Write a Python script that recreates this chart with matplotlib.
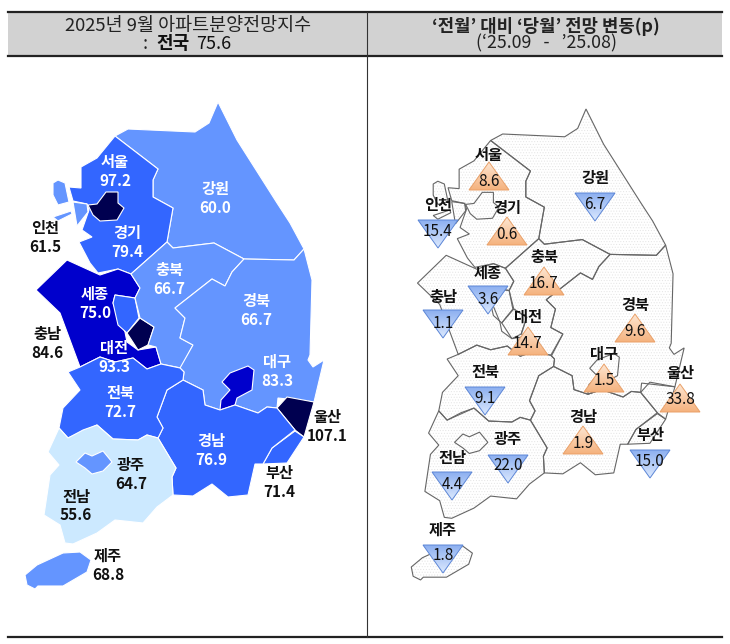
import numpy as np
import matplotlib
matplotlib.use("Agg")
import matplotlib.pyplot as plt
from matplotlib.colors import LinearSegmentedColormap
from matplotlib.patches import Polygon

plt.rcParams["font.family"] = ["Noto Sans CJK KR", "DejaVu Sans"]
plt.rcParams["hatch.linewidth"] = 0.4

# index values and month on month changes
regions = ["서울", "강원", "인천", "경기", "충북", "세종", "경북", "충남", "대전",
           "대구", "전북", "울산", "경남", "광주", "부산", "전남", "제주"]
index_values = ["97.2", "60.0", "61.5", "79.4", "66.7", "75.0", "66.7", "84.6", "93.3",
                "83.3", "72.7", "107.1", "76.9", "64.7", "71.4", "55.6", "68.8"]
change_values = ["8.6", "6.7", "15.4", "0.6", "16.7", "3.6", "9.6", "1.1", "14.7",
                 "1.5", "9.1", "33.8", "1.9", "22.0", "15.0", "4.4", "1.8"]
change_up = [True, False, False, True, True, False, True, False, True,
             True, False, True, True, False, False, False, False]

# left map label centres
left_labels = [(115, 162), (215, 189), (45, 228), (127, 233), (169, 270), (95, 294),
               (256, 301), (47, 334), (114, 348), (277, 362), (120, 393), (327, 417),
               (211, 441), (131, 465), (279, 473), (76, 497), (108, 556)]
dark_text = {"인천", "충남", "울산", "광주", "부산", "전남", "제주"}

# right map triangle centre x and the y of its flat side
tri_pos = [(489, 190), (595, 193), (438, 220), (507, 245), (544, 295), (488, 286),
           (635, 342), (443, 310), (528, 355), (604, 392), (485, 387), (680, 412),
           (583, 454), (508, 455), (650, 450), (452, 472), (443, 545)]
tri_label_y = [155, 178, 205, 208, 257, 273, 305, 297, 317, 354, 372, 373, 417, 439, 435, 458, 530]

LIGHT = "#6495FF"
MID = "#3366FF"
DEEP = "#0000CC"
NAVY = "#000050"
PALE = "#CCE9FF"

# outlines traced in image pixels, drawn back to front
shapes = [
    ("강원", LIGHT, [[(115, 136), (128, 129), (195, 132), (209, 123), (218, 102), (237, 140), (277, 203),
                      (290, 223), (304, 249), (294, 260), (244, 259), (214, 243), (173, 248), (167, 242),
                      (173, 208), (153, 197), (153, 180), (158, 169)]]),
    ("경기", MID, [[(115, 136), (158, 169), (153, 180), (153, 197), (173, 208), (167, 242), (131, 274),
                    (118, 269), (98, 273), (90, 263), (79, 242), (92, 237), (82, 230), (89, 210),
                    (87, 204), (73, 201), (69, 187), (81, 188), (81, 167), (97, 158)]]),
    ("서울", NAVY, [[(88, 205), (97, 204), (106, 192), (118, 192), (118, 203), (124, 208), (117, 220),
                     (100, 221), (93, 215)]]),
    ("인천", LIGHT, [[(73, 202), (87, 204), (88, 212), (77, 226)],
                     [(53, 183), (58, 180), (65, 183), (69, 202), (58, 205), (53, 195)],
                     [(53, 217), (71, 211), (72, 214), (58, 221)]]),
    ("충남", DEEP, [[(36, 290), (67, 260), (100, 275), (118, 269), (131, 274), (140, 288), (135, 298),
                     (115, 295), (113, 303), (125, 332), (127, 342), (138, 350), (156, 347), (161, 364),
                     (147, 369), (133, 358), (115, 362), (100, 357), (80, 367), (70, 340), (60, 313)]]),
    ("세종", MID, [[(115, 295), (135, 298), (139, 318), (127, 333), (118, 325), (113, 303)]]),
    ("대전", NAVY, [[(127, 333), (140, 318), (154, 327), (148, 345), (138, 350)]]),
    ("충북", LIGHT, [[(167, 242), (173, 248), (214, 243), (244, 259), (232, 272), (225, 286), (212, 279),
                      (175, 308), (185, 318), (180, 338), (193, 345), (181, 368), (161, 364), (156, 347),
                      (148, 345), (154, 327), (140, 318), (135, 298), (140, 288), (131, 274)]]),
    ("경북", LIGHT, [[(244, 259), (294, 260), (304, 249), (312, 280), (310, 355), (308, 360), (313, 367),
                      (324, 360), (314, 402), (278, 398), (277, 408), (267, 407), (258, 413), (235, 405),
                      (220, 410), (205, 405), (203, 390), (183, 380), (184, 372), (180, 368), (193, 345),
                      (180, 338), (185, 318), (175, 308), (212, 279), (225, 286), (232, 272)]]),
    ("대구", DEEP, [[(222, 382), (230, 373), (248, 366), (254, 370), (252, 390), (237, 398), (235, 405),
                     (220, 410), (221, 400), (230, 390)]]),
    ("울산", NAVY, [[(277, 408), (287, 397), (314, 402), (304, 437), (295, 430)]]),
    ("부산", MID, [[(295, 431), (304, 437), (287, 463), (263, 464), (272, 448)]]),
    ("경남", MID, [[(183, 380), (203, 390), (205, 405), (220, 410), (235, 405), (258, 413), (267, 407),
                    (277, 408), (295, 430), (272, 448), (263, 464), (255, 464), (248, 495), (228, 497),
                    (212, 484), (193, 496), (173, 495), (172, 477), (176, 468), (158, 438), (163, 428),
                    (157, 417), (167, 390)]]),
    ("전북", MID, [[(68, 372), (80, 367), (100, 357), (115, 362), (133, 358), (147, 369), (161, 364),
                    (180, 368), (184, 372), (183, 380), (167, 390), (157, 417), (163, 428), (158, 438),
                    (147, 435), (138, 440), (113, 439), (97, 425), (68, 438), (59, 428), (63, 408),
                    (80, 390)]]),
    ("전남", PALE, [[(59, 428), (68, 438), (83, 430), (97, 425), (113, 439), (138, 440), (147, 435),
                     (158, 438), (176, 468), (172, 477), (173, 495), (157, 507), (143, 523), (115, 520),
                     (97, 533), (73, 544), (65, 543), (60, 525), (44, 515), (50, 475), (59, 465), (48, 452)]]),
    ("광주", LIGHT, [[(76, 462), (85, 453), (92, 456), (103, 451), (112, 462), (103, 471), (92, 474), (85, 468)]]),
    ("제주", LIGHT, [[(25, 575), (37, 565), (63, 553), (80, 552), (91, 560), (87, 572), (63, 586), (38, 586),
                      (35, 589), (27, 585)]]),
]

up_cmap = LinearSegmentedColormap.from_list("up", ["#FDE6D2", "#F5B27E"])
down_cmap = LinearSegmentedColormap.from_list("down", ["#8DB0F0", "#DCE9FE"])


def to_right(name, pts):
    # right map is the same outline at a smaller scale, Jeju moved a bit
    arr = np.array(pts, dtype=float)
    arr = (arr - [218, 102]) * 0.926 + [586, 109]
    if name == "제주":
        arr += [4, 20]
    return arr


def draw_triangle(ax, cx, base_y, up):
    half, tall = 20, 28
    tip_y = base_y - tall if up else base_y + tall
    tri = Polygon([(cx - half, base_y), (cx + half, base_y), (cx, tip_y)], closed=True,
                  facecolor="none", edgecolor="#E9A068" if up else "#5C86D6", lw=0.7, zorder=5)
    ax.add_patch(tri)
    grad = np.linspace(0, 1, 64).reshape(-1, 1)
    top, bottom = (tip_y, base_y) if up else (base_y, tip_y)
    img = ax.imshow(grad, cmap=up_cmap if up else down_cmap, aspect="auto",
                    extent=(cx - half, cx + half, bottom, top), zorder=4)
    img.set_clip_path(tri)


fig = plt.figure(figsize=(7.3, 6.44), dpi=100)
ax = fig.add_axes([0, 0, 1, 1])

# header band and rules
ax.fill_between([8, 722], 12, 55, color="#D2D2D2", lw=0, zorder=1)
ax.plot([8, 722], [12, 12], color="#222222", lw=1.6, zorder=2)
ax.plot([8, 722], [55.5, 55.5], color="#222222", lw=1.6, zorder=2)
ax.plot([8, 722], [637, 637], color="#222222", lw=1.6, zorder=2)
ax.plot([366.5, 366.5], [12, 637], color="#333333", lw=0.8, zorder=2)

ax.text(188, 26, "2025년 9월 아파트분양전망지수", ha="center", va="center", fontsize=13.3, color="#222222")
ax.text(145, 43.5, ":", ha="center", va="center", fontsize=13, color="#222222")
ax.text(156, 43.5, "전국", ha="left", va="center", fontsize=13, fontweight="bold", color="#111111")
ax.text(196, 43.5, "75.6", ha="left", va="center", fontsize=13, color="#111111")
ax.text(546, 26, "‘전월’ 대비 ‘당월’ 전망 변동(p)", ha="center", va="center", fontsize=12.8,
        fontweight="bold", color="#222222")
ax.text(546, 43.5, "(‘25.09   -   ’25.08)", ha="center", va="center", fontsize=12.8, color="#222222")

# both maps
for name, color, parts in shapes:
    for pts in parts:
        ax.add_patch(Polygon(pts, closed=True, facecolor=color, edgecolor="white", lw=0.8, zorder=3))
        right = to_right(name, pts)
        ax.add_patch(Polygon(right, closed=True, facecolor="white", edgecolor="#E4E4E4",
                             hatch="......", lw=0, zorder=3))
        ax.add_patch(Polygon(right, closed=True, facecolor="none", edgecolor="#666666", lw=0.8, zorder=3.5))

# left map labels
for name, value, (x, y) in zip(regions, index_values, left_labels):
    tc = "#111111" if name in dark_text else "white"
    ax.text(x, y, name, ha="center", va="center", fontsize=11, fontweight="bold", color=tc, zorder=6)
    ax.text(x, y + 18.5, value, ha="center", va="center", fontsize=11, fontweight="bold", color=tc, zorder=6)

# right map triangles and labels
for name, value, up, (cx, base_y), label_y in zip(regions, change_values, change_up, tri_pos, tri_label_y):
    draw_triangle(ax, cx, base_y, up)
    ax.text(cx, label_y, name, ha="center", va="center", fontsize=11, fontweight="bold", color="#111111", zorder=6)
    ax.text(cx, label_y + 26, value, ha="center", va="center", fontsize=11, color="#111111", zorder=6)

ax.set_xlim(0, 730)
ax.set_ylim(644, 0)
ax.axis("off")
fig.savefig("out.png", dpi=100)
